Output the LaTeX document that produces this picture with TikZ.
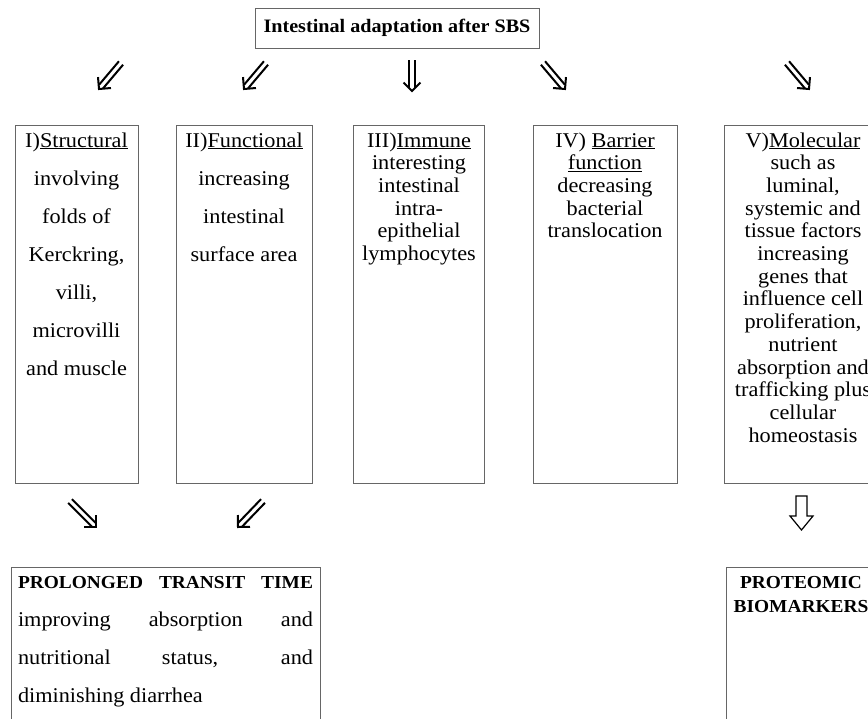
\documentclass[tikz,border=0pt]{standalone}
\usepackage{fontspec}
\setmainfont{Liberation Serif}[FakeStretch=1.06]
\usetikzlibrary{calc}
\newcommand{\dblarrow}[2]{%
  \draw[arrstroke] ($(#2)!12pt!45:(#1)$) -- (#2) -- ($(#2)!12pt!-45:(#1)$);
  \draw[arrstroke] ($(#1)!2.7pt!-90:(#2)$) -- ($($(#2)!3.2pt!(#1)$)!2.7pt!-90:(#2)$);
  \draw[arrstroke] ($(#1)!2.7pt!90:(#2)$) -- ($($(#2)!3.2pt!(#1)$)!2.7pt!90:(#2)$);
}
\begin{document}
\begin{tikzpicture}[x=1pt,y=-1pt,
  box/.style={draw=black!60, line width=1pt, inner sep=0pt},
  txt/.style={anchor=base, inner sep=0pt},
  arrstroke/.style={draw=black, line width=2pt, line join=miter, line cap=butt},
  hollow/.style={draw=black, line width=1.2pt, line join=miter}
]
\useasboundingbox (0,0) rectangle (868,718);
\clip (0,0) rectangle (868,718);
\fill[white] (0,0) rectangle (868,718);

% title
\node[box, minimum width=284pt, minimum height=40pt, font=\fontsize{19}{23}\selectfont\bfseries] (title) at (397,28) {Intestinal adaptation after SBS};

% column boxes
\node[box, anchor=north west, minimum width=123pt, minimum height=358pt] (b1) at (15,125) {};
\node[box, anchor=north west, minimum width=136pt, minimum height=358pt] (b2) at (176,125) {};
\node[box, anchor=north west, minimum width=131pt, minimum height=358pt] (b3) at (353,125) {};
\node[box, anchor=north west, minimum width=144pt, minimum height=358pt] (b4) at (533,125) {};
\node[box, anchor=north west, minimum width=158pt, minimum height=358pt] (b5) at (724,125) {};

% column texts
\node[txt] (t1) at (76.5,147) {\parbox[t]{200pt}{\centering\fontsize{21}{38}\selectfont
 I)\underline{Structural}\\ involving\\ folds of\\ Kerckring,\\ villi,\\ microvilli\\ and muscle}};
\node[txt] (t2) at (244,147) {\parbox[t]{200pt}{\centering\fontsize{21}{38}\selectfont
 II)\underline{Functional}\\ increasing\\ intestinal\\ surface area}};
\node[txt] (t3) at (419,147) {\parbox[t]{200pt}{\centering\fontsize{21}{22.7}\selectfont
 III)\underline{Immune}\\ interesting\\ intestinal\\ intra-\\ epithelial\\ lymphocytes}};
\node[txt] (t4) at (605,147) {\parbox[t]{200pt}{\centering\fontsize{21}{22.7}\selectfont
 IV) \underline{Barrier}\\ \underline{function}\\ decreasing\\ bacterial\\ translocation}};
\node[txt] (t5) at (803,147) {\parbox[t]{220pt}{\centering\fontsize{21}{22.7}\selectfont
 V)\underline{Molecular}\\ such as\\ luminal,\\ systemic and\\ tissue factors\\ increasing\\ genes that\\ influence cell\\ proliferation,\\ nutrient\\ absorption and\\ trafficking plus\\ cellular\\ homeostasis}};

% bottom boxes
\node[box, anchor=north west, minimum width=309pt, minimum height=200pt] (r1) at (11,567) {};
\node[box, anchor=north west, minimum width=160pt, minimum height=200pt] (r2) at (726,567) {};

\node[txt] (rt1) at (165.5,588) {\parbox[t]{295pt}{\fontsize{21}{38}\selectfont
 \makebox[295pt][s]{\fontsize{18.3}{38}\selectfont\bfseries PROLONGED TRANSIT TIME}\\
 \makebox[295pt][s]{improving absorption and}\\
 \makebox[295pt][s]{nutritional status, and}\\
 diminishing diarrhea}};
\node[txt] (rt2) at (801,588) {\parbox[t]{220pt}{\centering\fontsize{18.3}{24}\selectfont\bfseries
 PROTEOMIC\\ BIOMARKERS}};

% top arrows (tail -> tip)
\coordinate (a1s) at (121,63);  \coordinate (a1e) at (99,89);
\coordinate (a2s) at (266,63);  \coordinate (a2e) at (244,89);
\coordinate (a3s) at (412,60);  \coordinate (a3e) at (412,91);
\coordinate (a4s) at (543,63);  \coordinate (a4e) at (565,89);
\coordinate (a5s) at (787,63);  \coordinate (a5e) at (809,89);
\dblarrow{a1s}{a1e}
\dblarrow{a2s}{a2e}
\dblarrow{a3s}{a3e}
\dblarrow{a4s}{a4e}
\dblarrow{a5s}{a5e}

% bottom arrows
\coordinate (c1s) at (70,501);  \coordinate (c1e) at (96,527);
\coordinate (c2s) at (263,501); \coordinate (c2e) at (238,527);
\dblarrow{c1s}{c1e}
\dblarrow{c2s}{c2e}

% hollow block arrow
\coordinate (h) at (801.5,496);
\draw[hollow] ($(h)+(-5.5,0)$) -- ($(h)+(5.5,0)$) -- ($(h)+(5.5,20)$) -- ($(h)+(11.5,20)$)
  -- ($(h)+(0,34)$) -- ($(h)+(-11.5,20)$) -- ($(h)+(-5.5,20)$) -- cycle;
\end{tikzpicture}
\end{document}
